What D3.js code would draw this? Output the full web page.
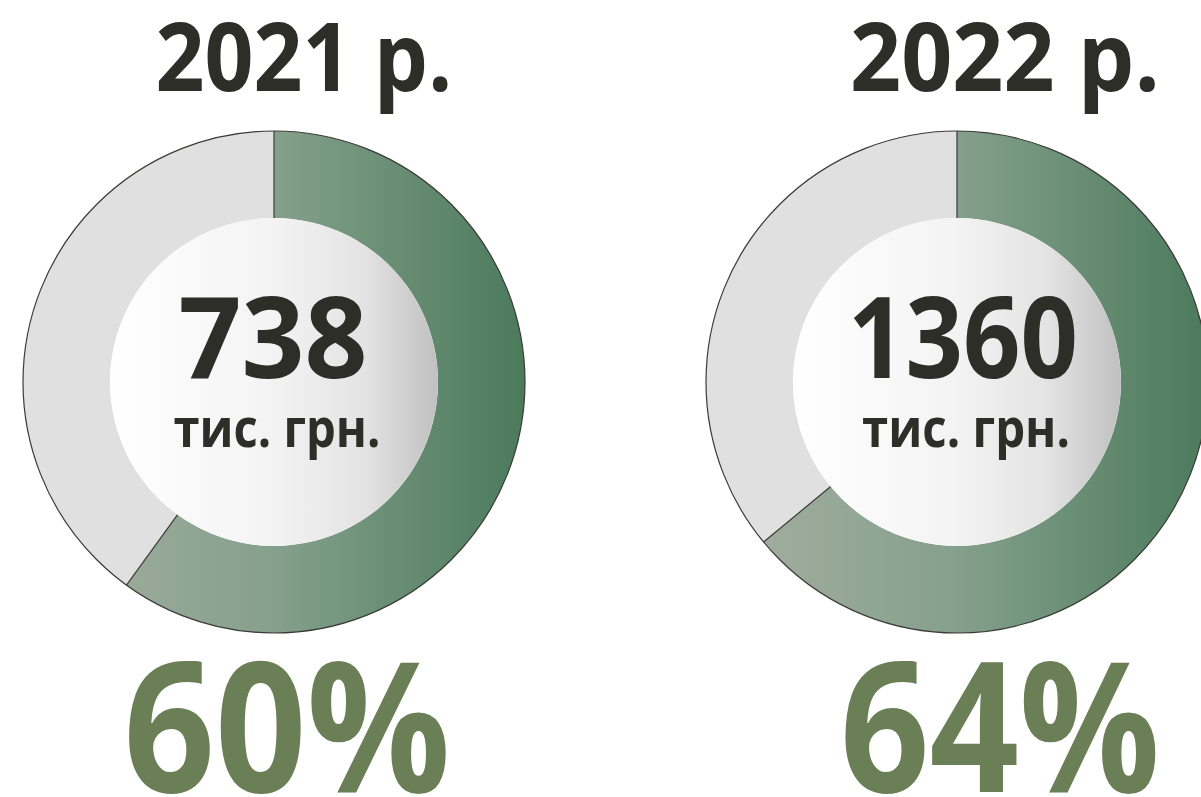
<!doctype html>
<html>
<head>
<meta charset="utf-8" />
<title>2021 / 2022</title>
<script src="https://cdn.jsdelivr.net/npm/d3@7/dist/d3.min.js"></script>
<style>
  html, body { margin: 0; padding: 0; background: #fff; }
  svg { display: block; font-family: "Open Sans", "Noto Sans", sans-serif; }
</style>
</head>
<body>
<svg id="chart" width="1201" height="797"></svg>
<script>
// data
var years    = ['2021 р.', '2022 р.'];
var amounts  = ['738', '1360'];
var unit     = 'тис. грн.';
var percents = [60, 64];

// layout per donut (x offsets of the text blocks are not symmetric in the original)
var centers   = [274, 957];
var titleDx   = [30, 48];
var amountDx  = [-1, 6];
var unitDx    = [3, 9];
var pctDx     = [13, 43];
var titleLen  = [297, 310];
var amountLen = [189, 230];
var unitLen   = [207, 208];
var pctLen    = [327, 320];

var cy = 382, R = 251, r = 164;

var svg = d3.select('#chart');
var defs = svg.append('defs');

var green = defs.append('linearGradient')
    .attr('id', 'greenGrad')
    .attr('gradientUnits', 'userSpaceOnUse')
    .attr('x1', -R).attr('x2', R).attr('y1', 0).attr('y2', 0);
green.append('stop').attr('offset', '0%').attr('stop-color', '#a8b0a2');
green.append('stop').attr('offset', '50%').attr('stop-color', '#85a08c');
green.append('stop').attr('offset', '100%').attr('stop-color', '#4b7a5b');

var inner = defs.append('linearGradient')
    .attr('id', 'innerGrad')
    .attr('x1', '0%').attr('x2', '100%').attr('y1', '0%').attr('y2', '0%');
inner.append('stop').attr('offset', '0%').attr('stop-color', '#ffffff');
inner.append('stop').attr('offset', '50%').attr('stop-color', '#f3f3f3');
inner.append('stop').attr('offset', '78%').attr('stop-color', '#e3e3e3');
inner.append('stop').attr('offset', '100%').attr('stop-color', '#c0c0c0');

var pie = d3.pie().sort(null).value(function(d) { return d; });
var arc = d3.arc().innerRadius(r).outerRadius(R);

percents.forEach(function(p, i) {
    var g = svg.append('g').attr('transform', 'translate(' + centers[i] + ',' + cy + ')');
    var slices = pie([p, 100 - p]);

    g.selectAll('path.slice')
        .data(slices)
        .enter()
        .append('path')
        .attr('class', 'slice')
        .attr('d', arc)
        .attr('fill', function(d, j) { return j === 0 ? 'url(#greenGrad)' : '#e0e0e0'; });

    // outline
    g.append('circle')
        .attr('r', R)
        .attr('fill', 'none')
        .attr('stroke', '#3a3a36')
        .attr('stroke-width', 1.2);

    // dividers between green and grey
    [slices[0].startAngle, slices[0].endAngle].forEach(function(a) {
        var p0 = d3.pointRadial(a, r), p1 = d3.pointRadial(a, R);
        g.append('line')
            .attr('x1', p0[0]).attr('y1', p0[1])
            .attr('x2', p1[0]).attr('y2', p1[1])
            .attr('stroke', '#3a3a36')
            .attr('stroke-width', 1.2);
    });

    g.append('circle')
        .attr('r', r)
        .attr('fill', 'url(#innerGrad)');

    g.append('text')
        .attr('x', amountDx[i]).attr('y', 378 - cy)
        .attr('text-anchor', 'middle')
        .attr('font-size', 113).attr('font-weight', 700)
        .attr('fill', '#2d2e28')
        .attr('textLength', amountLen[i]).attr('lengthAdjust', 'spacingAndGlyphs')
        .text(amounts[i]);

    g.append('text')
        .attr('x', unitDx[i]).attr('y', 447 - cy)
        .attr('text-anchor', 'middle')
        .attr('font-size', 54).attr('font-weight', 700)
        .attr('fill', '#2d2e28')
        .attr('textLength', unitLen[i]).attr('lengthAdjust', 'spacingAndGlyphs')
        .text(unit);

    svg.append('text')
        .attr('x', centers[i] + titleDx[i]).attr('y', 91)
        .attr('text-anchor', 'middle')
        .attr('font-size', 95).attr('font-weight', 700)
        .attr('fill', '#2d2e28')
        .attr('textLength', titleLen[i]).attr('lengthAdjust', 'spacingAndGlyphs')
        .text(years[i]);

    svg.append('text')
        .attr('x', centers[i] + pctDx[i]).attr('y', 792)
        .attr('text-anchor', 'middle')
        .attr('font-size', 182).attr('font-weight', 700)
        .attr('fill', '#6a7f56')
        .attr('textLength', pctLen[i]).attr('lengthAdjust', 'spacingAndGlyphs')
        .text(p + '%');
});
</script>
</body>
</html>
